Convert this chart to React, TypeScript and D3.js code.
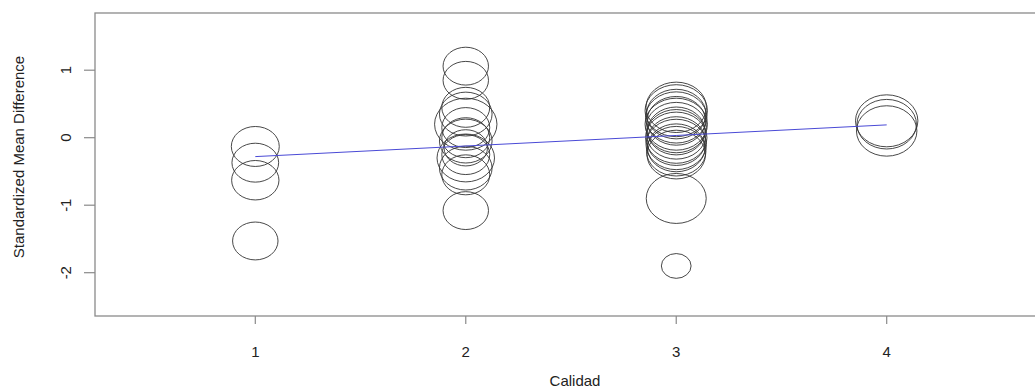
import React from 'react';
import * as d3 from 'd3';

// Calidad (quality score) per study, standardized mean difference, study weight
const calidad1 = [1, 1, 1, 1];
const smd1 = [-0.13, -0.37, -0.63, -1.53];
const peso1 = [39, 37, 38, 35];

const calidad2 = [2, 2, 2, 2, 2, 2, 2, 2, 2, 2, 2, 2, 2, 2];
const smd2 = [1.06, 0.85, 0.45, 0.35, 0.2, 0.15, 0.0, -0.05, -0.15, -0.25, -0.3, -0.45, -0.55, -1.08];
const peso2 = [35, 35, 39, 47, 66, 39, 39, 47, 32, 39, 56, 47, 39, 35];

const calidad3 = [3, 3, 3, 3, 3, 3, 3, 3, 3, 3, 3, 3, 3, 3, 3, 3, 3];
const smd3 = [0.45, 0.4, 0.35, 0.3, 0.25, 0.2, 0.15, 0.1, 0.05, 0.0, -0.05, -0.1, -0.15, -0.2, -0.25, -0.9, -1.9];
const peso3 = [62, 66, 60, 64, 58, 66, 62, 56, 60, 64, 58, 62, 56, 60, 58, 61, 15];

const calidad4 = [4, 4, 4];
const smd4 = [0.25, 0.2, 0.1];
const peso4 = [66, 60, 62];

// fitted meta-regression line
const lineX = [1, 2, 3, 4];
const lineY = [-0.28, -0.123, 0.033, 0.19];

const xTicks = [1, 2, 3, 4];
const yTicks = [-2, -1, 0, 1];

const W = 1035;
const H = 392;
const left = 95;
const top = 13;
const bottom = 316;
const right = 1055;

const App: React.FC = () => {
  const x = d3.scaleLinear().domain([1, 4]).range([255.3, 886.7]);
  const y = d3.scaleLinear().domain([-2, 1]).range([272.7, 70.2]);
  const r = d3.scaleSqrt().domain([0, 100]).range([0, 32]);

  const pts = [
    ...calidad1.map((c, i) => ({ c, v: smd1[i], w: peso1[i] })),
    ...calidad2.map((c, i) => ({ c, v: smd2[i], w: peso2[i] })),
    ...calidad3.map((c, i) => ({ c, v: smd3[i], w: peso3[i] })),
    ...calidad4.map((c, i) => ({ c, v: smd4[i], w: peso4[i] })),
  ];

  const line = d3.line<number>()
    .x((d) => x(d))
    .y((_, i) => y(lineY[i]));

  const font = '"Liberation Sans", Arial, sans-serif';
  const axisCol = '#8a8a8a';
  const textCol = '#222';

  return (
    <svg width={W} height={H} style={{ position: 'absolute', left: 0, top: 0, background: '#fff' }}
      fontFamily={font}>
      <rect x={left} y={top} width={right - left} height={bottom - top}
        fill="none" stroke={axisCol} strokeWidth={1.3} />

      {pts.map((p, i) => (
        <ellipse key={i} cx={x(p.c)} cy={y(p.v)} rx={r(p.w) * 1.2} ry={r(p.w)}
          fill="none" stroke="#333" strokeWidth={0.9} />
      ))}

      <path d={line(lineX) || ''} fill="none" stroke="#4a4ad6" strokeWidth={1} />

      {xTicks.map((t) => (
        <g key={t}>
          <line x1={x(t)} x2={x(t)} y1={bottom} y2={bottom + 8} stroke={axisCol} strokeWidth={1.2} />
          <text x={x(t)} y={357} textAnchor="middle" fontSize={15} fill={textCol}>{t}</text>
        </g>
      ))}

      {yTicks.map((t) => (
        <g key={t}>
          <line x1={left - 11} x2={left} y1={y(t)} y2={y(t)} stroke={axisCol} strokeWidth={1.2} />
          <text transform={`translate(70.5,${y(t)}) rotate(-90)`} textAnchor="middle"
            fontSize={15} fill={textCol}>{t}</text>
        </g>
      ))}

      <text x={575} y={386} textAnchor="middle" fontSize={15} fill={textCol}>Calidad</text>
      <text transform={`translate(23.5,157) rotate(-90)`} textAnchor="middle"
        fontSize={15} fill={textCol}>Standardized Mean Difference</text>
    </svg>
  );
};

export default App;
